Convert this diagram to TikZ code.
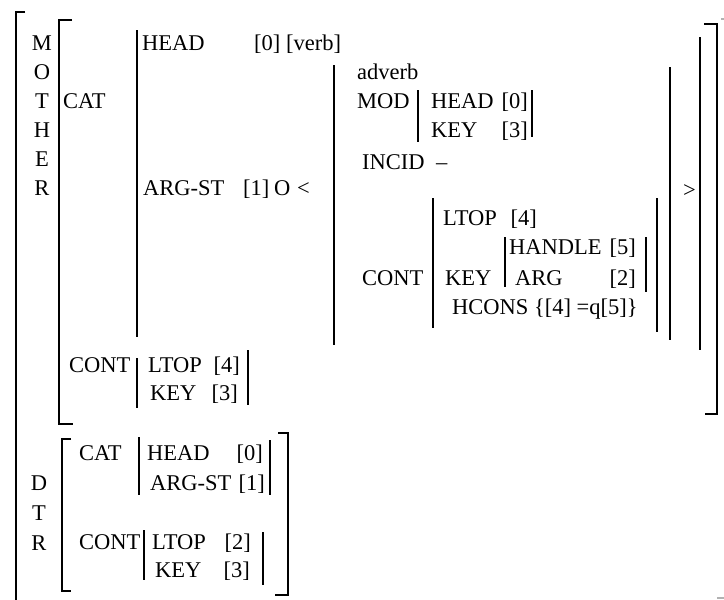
\documentclass[tikz,border=0pt]{standalone}
\usepackage{fontspec}
\setmainfont{Liberation Serif}
\begin{document}
\begin{tikzpicture}[x=1pt,y=-1pt,
  lbl/.style={anchor=base west, inner sep=0pt, font=\fontsize{22.5}{27}\selectfont},
  rlbl/.style={anchor=base east, inner sep=0pt, font=\fontsize{22.5}{27}\selectfont},
  clbl/.style={anchor=base, inner sep=0pt, font=\fontsize{22.5}{27}\selectfont},
  bar/.style={line width=2.6pt},
  faint/.style={line width=1.2pt, gray!60},
]
\useasboundingbox (0,0) rectangle (724,600);

% ---------- outer matrix ----------
\draw[bar] (25,12) -- (16,12) -- (16,602);
\draw[faint] (721,19) -- (724,19);
\draw[faint] (717,598) -- (724,598);

% MOTHER label, one letter per row
\foreach \ch [count=\i from 0] in {M,O,T,H,E,R}
  \node[clbl] (m\i) at (42,50.5+29*\i) {\ch};

% MOTHER value bracket
\draw[bar] (72,20) -- (59,20) -- (59,424) -- (73,424);
\draw[bar] (704,24) -- (717,24) -- (717,414) -- (705,414);

% CAT
\node[lbl] (cat) at (63,108.5) {CAT};
\draw[bar] (137,30) -- (137,337);
\draw[bar] (700,37) -- (700,350);
\node[lbl] (head) at (142,50.5) {HEAD};
\node[lbl] (headv) at (254,50.5) {[0] [verb]};
\node[lbl] (argst) at (143,195.5) {ARG-ST};
\node[lbl] (argv) at (243,195.5) {[1]};
\node[lbl] (argo) at (274,195.5) {O};
\node[lbl] (lt) at (297,195.5) {<};
\node[lbl] (gt) at (683,197.5) {>};

% list element: adverb
\draw[bar] (334,65) -- (334,345);
\draw[bar] (670,67) -- (670,340);
\node[lbl] (adv) at (357,79.5) {adverb};
\node[lbl] (mod) at (357,108.5) {MOD};
\draw[bar] (418,90) -- (418,142);
\draw[bar] (532,90) -- (532,137);
\node[lbl] (mhead) at (431,108.5) {HEAD};
\node[rlbl] (mheadv) at (528,108.5) {[0]};
\node[lbl] (mkey) at (431,137.5) {KEY};
\node[rlbl] (mkeyv) at (528,137.5) {[3]};
\node[lbl] (incid) at (362,169.5) {INCID};
\node[lbl] (incidv) at (436,169.5) {--};

% CONT of the adverb
\node[lbl] (acont) at (362,285.5) {CONT};
\draw[bar] (433,198) -- (433,328);
\draw[bar] (657,198) -- (657,332);
\node[lbl] (altop) at (443,225.5) {LTOP};
\node[rlbl] (altopv) at (537,225.5) {[4]};
\node[lbl] (akey) at (445,285.5) {KEY};
\draw[bar] (505,237) -- (505,287);
\draw[bar] (646,237) -- (646,292);
\node[lbl] (handle) at (509,254.5) {HANDLE};
\node[rlbl] (handlev) at (636,254.5) {[5]};
\node[lbl] (arg) at (515,285.5) {ARG};
\node[rlbl] (argv2) at (636,285.5) {[2]};
\node[lbl] (hcons) at (452,314.5) {HCONS \{[4] =q[5]\}};

% CONT of the mother
\node[lbl] (mcont) at (69,372.5) {CONT};
\draw[bar] (137,358) -- (137,408);
\draw[bar] (248,350) -- (248,405);
\node[lbl] (mltop) at (148,372.5) {LTOP};
\node[rlbl] (mltopv) at (240,372.5) {[4]};
\node[lbl] (mkey2) at (150,400.5) {KEY};
\node[rlbl] (mkey2v) at (238,400.5) {[3]};

% ---------- DTR ----------
\foreach \ch [count=\i from 0] in {D,T,R}
  \node[clbl] (d\i) at (39,490.5+30*\i) {\ch};
\draw[bar] (71,439) -- (62,439) -- (62,591) -- (71,591);
\draw[bar] (278,433) -- (288,433) -- (288,595) -- (275,595);

\node[lbl] (dcat) at (79,460.5) {CAT};
\draw[bar] (139,437) -- (139,495);
\draw[bar] (270,440) -- (270,495);
\node[lbl] (dhead) at (147,460.5) {HEAD};
\node[rlbl] (dheadv) at (263,460.5) {[0]};
\node[lbl] (dargst) at (150,490.5) {ARG-ST};
\node[rlbl] (dargstv) at (265,490.5) {[1]};

\node[lbl] (dcont) at (79,549.5) {CONT};
\draw[bar] (144,530) -- (144,580);
\draw[bar] (263,532) -- (263,585);
\node[lbl] (dltop) at (152,549.5) {LTOP};
\node[rlbl] (dltopv) at (251,549.5) {[2]};
\node[lbl] (dkey) at (155,577.5) {KEY};
\node[rlbl] (dkeyv) at (250,577.5) {[3]};
\end{tikzpicture}
\end{document}
